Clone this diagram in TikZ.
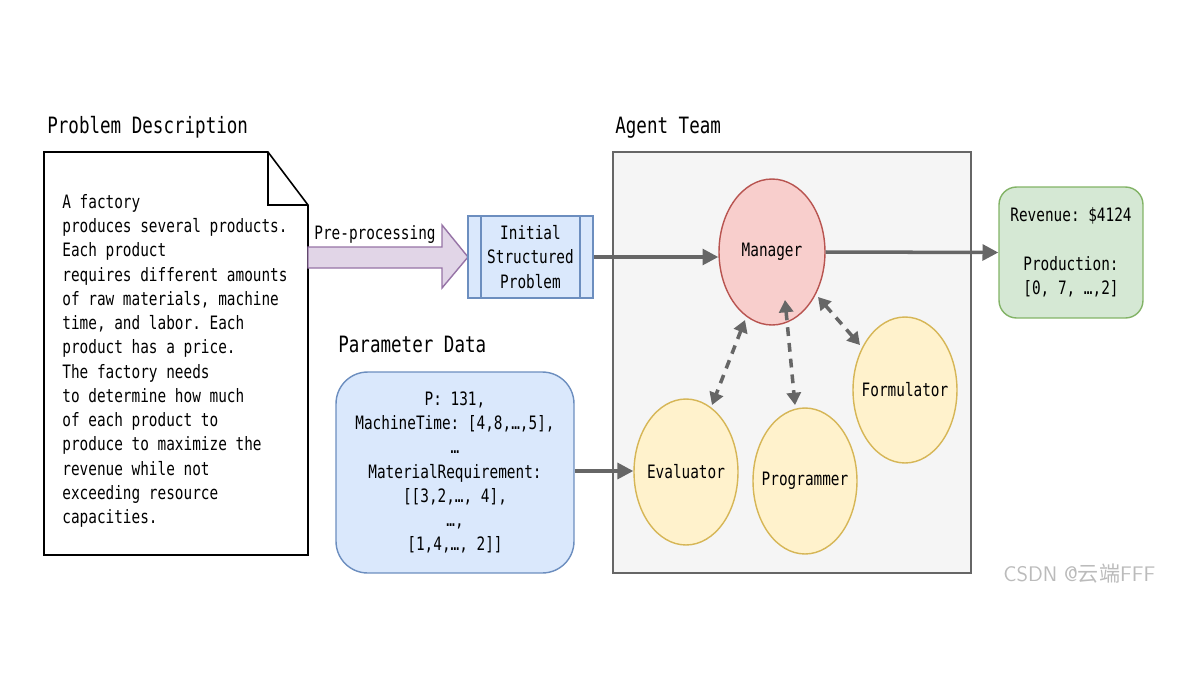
\documentclass[tikz,border=0pt]{standalone}
\usepackage{fontspec}
\setmonofont{DejaVu Sans Mono}[FakeStretch=0.78]
\newfontfamily\cjkf{Noto Sans CJK SC}
\usetikzlibrary{arrows.meta,shapes.geometric}
\definecolor{gline}{HTML}{666666}
\definecolor{redf}{HTML}{F8CECC}\definecolor{redd}{HTML}{B85450}
\definecolor{yelf}{HTML}{FFF2CC}\definecolor{yeld}{HTML}{D6B656}
\definecolor{bluf}{HTML}{DAE8FC}\definecolor{blud}{HTML}{6C8EBF}
\definecolor{grnf}{HTML}{D5E8D4}\definecolor{grnd}{HTML}{82B366}
\definecolor{purf}{HTML}{E1D5E7}\definecolor{purd}{HTML}{9673A6}
\definecolor{bgf}{HTML}{F5F5F5}\definecolor{wmk}{HTML}{BBBBBB}
\newcommand{\zb}[1]{\makebox[0pt]{#1}}
\begin{document}
\begin{tikzpicture}[x=0.02cm,y=-0.02cm,font=\ttfamily\fontsize{10.5}{13.8}\selectfont,
  ell/.style={ellipse,draw,minimum width=2.08cm,minimum height=2.92cm,inner sep=0pt,line width=0.8pt},
  mgr/.style={ell,fill=redf,draw=redd},
  yel/.style={ell,fill=yelf,draw=yeld},
  conn/.style={draw=gline,line width=2pt,-{Triangle[length=9pt,width=9pt]}},
  dconn/.style={draw=gline,line width=2pt,dash pattern=on 5pt off 4pt,{Triangle[length=7pt,width=8pt]}-{Triangle[length=7pt,width=8pt]}},
  head/.style={font=\ttfamily\fontsize{12.8}{14}\selectfont,anchor=base west,inner sep=0pt}]
\useasboundingbox (0,0) rectangle (1191,697);
% document
\node[head] (h1) at (47,133) {Problem Description};
\draw[line width=0.9pt,fill=white] (44,152) -- (268,152) -- (308,205) -- (308,555) -- (44,555) -- cycle;
\draw[line width=0.9pt] (268,152) -- (268,205) -- (308,205);
\node[anchor=north west,align=left,inner sep=0pt] (doc) at (62,194) {A factory\\produces several products.\\Each product\\requires different amounts\\of raw materials, machine\\time, and labor. Each\\product has a price.\\The factory needs\\to determine how much\\of each product to\\produce to maximize the\\revenue while not\\exceeding resource\\capacities.};
% preprocessing arrow
\draw[fill=purf,draw=purd,line width=0.8pt] (308,247) -- (442,247) -- (442,225) -- (468,257) -- (442,288) -- (442,268) -- (308,268) -- cycle;
\node[anchor=base] (pp) at (375,239) {Pre-processing};
% initial box
\node[draw=blud,fill=bluf,line width=0.8pt,minimum width=2.5cm,minimum height=1.64cm,align=center,inner sep=0pt] (init) at (530.5,257) {Initial\\Structured\\Problem};
\draw[blud,line width=0.8pt] (481,216) -- (481,298) (580,216) -- (580,298);
% agent team
\node[head] (h2) at (615,133) {Agent Team};
\draw[draw=gline,fill=bgf,line width=0.8pt] (613,152) rectangle (971,573);
\node[mgr,minimum width=2.12cm] (man) at (772,252) {\zb{Manager}};
\node[yel] (form) at (905,390) {\zb{Formulator}};
\node[yel] (prog) at (805,481) {\zb{Programmer}};
\node[yel] (eval) at (686,472) {\zb{Evaluator}};
% output
\node[draw=grnd,fill=grnf,line width=0.8pt,rounded corners=10pt,minimum width=2.88cm,minimum height=2.62cm,align=center,inner sep=0pt] (out) at (1071,252.5) {Revenue: \$4124\\[13.8pt]Production:\\{[0, 7, …,2]}};
% parameter
\node[head] (h3) at (338,352) {Parameter Data};
\node[draw=blud,fill=bluf,line width=0.8pt,rounded corners=18pt,minimum width=4.76cm,minimum height=4.02cm,align=center,inner sep=0pt] (par) at (455,472.5) {P: 131,\\MachineTime: [4,8,…,5],\\…\\MaterialRequirement:\\{[[3,2,…, 4],}\\…,\\{[1,4,…, 2]]}};
% connectors
\draw[conn] (init.east |- 0,257) -- (man.west |- 0,257);
\draw[conn] (man.east) -- (out.west);
\draw[conn] (par.east |- 0,471) -- (eval.west |- 0,471);
\coordinate (m1) at (745,320); \coordinate (e1) at (712,405);
\coordinate (m2) at (785,300); \coordinate (p1) at (795,405);
\coordinate (m3) at (818,297); \coordinate (f1) at (860,345);
\draw[dconn] (m1) -- (e1);
\draw[dconn] (m2) -- (p1);
\draw[dconn] (m3) -- (f1);
% watermark
\node[text=wmk,font=\sffamily\fontsize{12}{14}\selectfont,anchor=base west,inner sep=0pt] (wm) at (1003,581) {CSDN @{\cjkf 云端}FFF};
\end{tikzpicture}
\end{document}
